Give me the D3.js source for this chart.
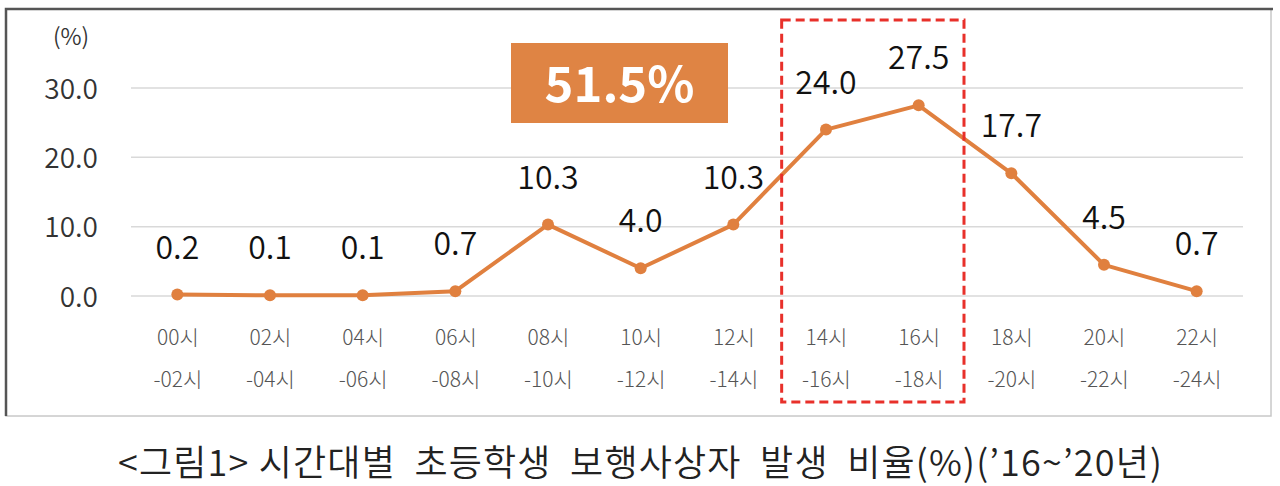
<!DOCTYPE html>
<html><head><meta charset="utf-8">
<script src="https://cdn.jsdelivr.net/npm/d3@7"></script>
<style>html,body{margin:0;padding:0;background:#fff;}svg{display:block;}</style>
</head><body>
<script>
const categoriesTop = ["00시","02시","04시","06시","08시","10시","12시","14시","16시","18시","20시","22시"];
const categoriesBottom = ["-02시","-04시","-06시","-08시","-10시","-12시","-14시","-16시","-18시","-20시","-22시","-24시"];
const values = [0.2,0.1,0.1,0.7,10.3,4.0,10.3,24.0,27.5,17.7,4.5,0.7];
const yTicks = [0,10,20,30];
const unitLabel = "(%)";
const highlightText = "51.5%";
const highlightRange = ["14시","16시"];
const caption = "<그림1> 시간대별  초등학생  보행사상자  발생  비율(%)(’16~’20년)";

const W = 1280, H = 486;
const font = "'Noto Sans CJK KR','Noto Sans',sans-serif";
const svg = d3.select("body").append("svg").attr("width", W).attr("height", H);

// frame
svg.append("rect").attr("x",6).attr("y",9).attr("width",1265).attr("height",407)
  .attr("fill","#fff").attr("stroke","#c8c8c8").attr("stroke-width",1.5);
svg.append("path").attr("d","M6,416 V9 H1273").attr("fill","none").attr("stroke","#555").attr("stroke-width",2.5);

const x = d3.scalePoint().domain(categoriesTop).range([131,1243]).padding(0.5);
const y = d3.scaleLinear().domain([0,30]).range([296,88]);

// gridlines
svg.append("g").selectAll("line").data(yTicks).join("line")
  .attr("x1",131).attr("x2",1243).attr("y1",d=>y(d)).attr("y2",d=>y(d))
  .attr("stroke","#d9d9d9").attr("stroke-width",1.5);

// y axis labels
const yAxis = d3.axisLeft(y).tickValues(yTicks).tickFormat(d3.format(".1f")).tickSize(0).tickPadding(0);
const ya = svg.append("g").attr("transform","translate(98,0)").call(yAxis);
ya.select(".domain").remove();
ya.selectAll("text").attr("font-family",font).attr("font-weight",350).attr("font-size",28).attr("fill","#333").attr("dy","0.36em");

svg.append("text").attr("x",71).attr("y",45).attr("text-anchor","middle")
  .attr("font-family",font).attr("font-weight",350).attr("font-size",23).attr("fill","#333").text(unitLabel);

// x axis labels
const xAxis = d3.axisBottom(x).tickSize(0).tickPadding(0).tickFormat(d=>d);
const xa = svg.append("g").attr("transform","translate(0,330)").call(xAxis);
xa.select(".domain").remove();
xa.selectAll("text").attr("font-family",font).attr("font-weight",300).attr("font-size",21).attr("fill","#555").attr("dy","0.71em");
xa.selectAll(".tick").append("text")
  .attr("y",42).attr("dy","0.71em").attr("text-anchor","middle")
  .attr("font-family",font).attr("font-weight",300).attr("font-size",21).attr("fill","#555")
  .text((d,i)=>categoriesBottom[i]);

// line
const line = d3.line().x((d,i)=>x(categoriesTop[i])).y(d=>y(d));
svg.append("path").datum(values).attr("d",line).attr("fill","none")
  .attr("stroke","#e0803f").attr("stroke-width",4).attr("stroke-linejoin","round");
svg.append("g").selectAll("circle").data(values).join("circle")
  .attr("cx",(d,i)=>x(categoriesTop[i])).attr("cy",d=>y(d)).attr("r",6).attr("fill","#e0803f");

// value labels
svg.append("g").selectAll("text").data(values).join("text")
  .attr("x",(d,i)=>x(categoriesTop[i])).attr("y",d=>y(d)-36).attr("text-anchor","middle")
  .attr("font-family",font).attr("font-weight",350).attr("font-size",32).attr("fill","#111")
  .text(d=>d3.format(".1f")(d));

// highlight dashed box
const step = x.step();
const bx1 = x(highlightRange[0]) - step/2 + 2, bx2 = x(highlightRange[1]) + step/2 - 1;
svg.append("rect").attr("x",bx1).attr("y",20).attr("width",bx2-bx1).attr("height",382)
  .attr("fill","none").attr("stroke","#e8302a").attr("stroke-width",3).attr("stroke-dasharray","9,5");

// orange badge
svg.append("rect").attr("x",511).attr("y",43).attr("width",217).attr("height",80).attr("fill","#df8444");
svg.append("text").attr("x",619.5).attr("y",102).attr("text-anchor","middle")
  .attr("font-family",font).attr("font-weight","bold").attr("font-size",49).attr("fill","#fff").text(highlightText);

// caption
svg.append("text").attr("x",640).attr("y",476).attr("text-anchor","middle").attr("xml:space","preserve")
  .style("white-space","pre").attr("textLength",1044).attr("lengthAdjust","spacing")
  .attr("font-family",font).attr("font-weight",350).attr("font-size",36).attr("fill","#222").text(caption);
</script>
</body></html>
